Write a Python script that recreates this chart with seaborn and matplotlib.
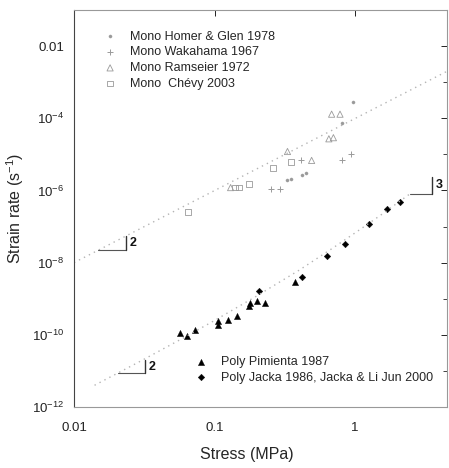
import matplotlib
matplotlib.use("Agg")
import matplotlib.pyplot as plt
import matplotlib.ticker as mticker
import numpy as np
import pandas as pd
import seaborn as sns

# ---------------- data ----------------
homer_stress = [0.33, 0.35, 0.42, 0.45, 0.80, 0.96]
homer_rate = [2.0e-6, 2.1e-6, 2.7e-6, 3.0e-6, 7.6e-5, 2.9e-4]

wakahama_stress = [0.25, 0.29, 0.41, 0.80, 0.93]
wakahama_rate = [1.1e-6, 1.1e-6, 6.8e-6, 6.9e-6, 1.0e-5]

ramseier_stress = [0.13, 0.33, 0.49, 0.65, 0.70, 0.68, 0.78]
ramseier_rate = [1.2e-6, 1.2e-5, 6.8e-6, 2.7e-5, 2.9e-5, 1.3e-4, 1.3e-4]

chevy_stress = [0.065, 0.14, 0.15, 0.175, 0.26, 0.35]
chevy_rate = [2.5e-7, 1.2e-6, 1.2e-6, 1.5e-6, 4.2e-6, 6.2e-6]

pimienta_stress = [0.057, 0.064, 0.072, 0.106, 0.106, 0.125, 0.144, 0.177,
                   0.18, 0.20, 0.229, 0.374]
pimienta_rate = [1.1e-10, 9.0e-11, 1.4e-10, 1.9e-10, 2.4e-10, 2.5e-10, 3.4e-10,
                 6.2e-10, 7.5e-10, 8.7e-10, 7.6e-10, 3.0e-9]

jacka_stress = [0.208, 0.417, 0.63, 0.85, 1.26, 1.68, 2.09]
jacka_rate = [1.6e-9, 4.0e-9, 1.5e-8, 3.2e-8, 1.2e-7, 3.0e-7, 4.7e-7]

# fitted lines
mono_fit_stress = [0.01, 4.5]
mono_fit_rate = [1.0e-8, 2.0e-3]
poly_fit_stress = [0.014, 0.03, 0.06, 0.1, 0.2, 0.4, 0.7, 1.0, 1.5, 2.5]
poly_fit_rate = [4.0e-12, 1.9e-11, 8.2e-11, 2.5e-10, 1.2e-9, 6.2e-9, 2.6e-8,
                 6.7e-8, 2.0e-7, 8.5e-7]

# slope triangles: (x_left, x_right, y_low, y_high, label)
slope_marks = [
    (0.0148, 0.0235, 2.19e-8, 5.5e-8, "2"),
    (0.0206, 0.032, 8.5e-12, 2.05e-11, "2"),
    (2.46, 3.53, 8.1e-7, 2.4e-6, "3"),
]

y_major = [1e-12, 1e-10, 1e-8, 1e-6, 1e-4, 1e-2]
y_minor = [1e-11, 1e-9, 1e-7, 1e-5, 1e-3, 1e-1]
x_major = [0.01, 0.1, 1]
x_labels = ["0.01", "0.1", "1"]

# ---------------- style ----------------
sns.set_theme(style="white")
plt.rcParams["font.family"] = ["Liberation Sans", "DejaVu Sans"]
plt.rcParams["mathtext.fontset"] = "custom"
plt.rcParams["mathtext.rm"] = "Liberation Sans"
plt.rcParams["mathtext.it"] = "Liberation Sans:italic"
plt.rcParams["mathtext.bf"] = "Liberation Sans:bold"

fig = plt.figure(figsize=(4.49, 4.68), dpi=100)
ax = fig.add_axes([74 / 449, 61 / 468, 373 / 449, 397 / 468])
ax.set_xscale("log")
ax.set_yscale("log")

mono_col = "#9a9a9a"
line_col = "#b4b4b4"

# fit lines
sns.lineplot(x=mono_fit_stress, y=mono_fit_rate, ax=ax, color=line_col,
             linestyle=(0, (1, 3)), linewidth=1.0, sort=False, estimator=None)
sns.lineplot(x=poly_fit_stress, y=poly_fit_rate, ax=ax, color=line_col,
             linestyle=(0, (1, 3)), linewidth=1.0, sort=False, estimator=None)

# mono data
sns.scatterplot(x=homer_stress, y=homer_rate, ax=ax, marker="o", s=5,
                color=mono_col, edgecolor=mono_col, linewidth=0.3,
                label="Mono Homer & Glen 1978")
sns.scatterplot(x=wakahama_stress, y=wakahama_rate, ax=ax, marker="+", s=16,
                color=mono_col, linewidth=0.7, label="Mono Wakahama 1967")
sns.scatterplot(x=ramseier_stress, y=ramseier_rate, ax=ax, marker="^", s=20,
                color="none", edgecolor=mono_col, linewidth=0.6,
                label="Mono Ramseier 1972")
sns.scatterplot(x=chevy_stress, y=chevy_rate, ax=ax, marker="s", s=17,
                color="none", edgecolor=mono_col, linewidth=0.6,
                label="Mono  Chévy 2003")

# poly data
sns.scatterplot(x=pimienta_stress, y=pimienta_rate, ax=ax, marker="^", s=20,
                color="black", edgecolor="black", linewidth=0.3,
                label="Poly Pimienta 1987")
sns.scatterplot(x=jacka_stress, y=jacka_rate, ax=ax, marker="D", s=11,
                color="black", edgecolor="black", linewidth=0.3,
                label="Poly Jacka 1986, Jacka & Li Jun 2000")

# slope triangles
for xl, xr, yl, yh, lab in slope_marks:
    ax.plot([xl, xr], [yl, yl], color="#555555", linewidth=0.8)
    ax.plot([xr, xr], [yl, yh], color="#333333", linewidth=1.0)
    ax.text(xr * 1.06, np.sqrt(yl * yh), lab, fontsize=9, fontweight="bold",
            ha="left", va="center", color="#111111")

ax.set_xlim(0.01, 4.5)
ax.set_ylim(1e-12, 0.1)

ax.xaxis.set_major_locator(mticker.FixedLocator(x_major))
ax.xaxis.set_major_formatter(mticker.FixedFormatter(x_labels))
ax.xaxis.set_minor_locator(mticker.NullLocator())


def yfmt(v, pos):
    if abs(v - 1e-2) < 1e-9:
        return "0.01"
    return r"$10^{%d}$" % int(round(np.log10(v)))


ax.yaxis.set_major_locator(mticker.FixedLocator(y_major))
ax.yaxis.set_major_formatter(mticker.FuncFormatter(yfmt))
ax.yaxis.set_minor_locator(mticker.FixedLocator(y_minor))
ax.yaxis.set_minor_formatter(mticker.NullFormatter())

ax.tick_params(which="both", direction="in", top=True, right=True,
               labelsize=9.5, colors="#222222")
ax.tick_params(which="major", length=4, width=0.7)
ax.tick_params(which="minor", length=3, width=0.6)
ax.tick_params(axis="x", which="major", pad=11)
ax.tick_params(axis="y", which="major", pad=7)
for side, sp in ax.spines.items():
    sp.set_linewidth(0.8)
    sp.set_color("#444444" if side == "left" else "#999999")

ax.set_xlabel("Stress (MPa)", fontsize=11.5)
ax.set_ylabel("Strain rate (s$^{-1}$)", fontsize=11.5)
ax.xaxis.set_label_coords(0.464, -0.102)
ax.yaxis.set_label_coords(-0.128, 0.5)

handles, labels = ax.get_legend_handles_labels()
h_mono, l_mono = handles[:4], labels[:4]
h_poly, l_poly = handles[4:], labels[4:]
if ax.get_legend() is not None:
    ax.get_legend().remove()

leg1 = ax.legend(h_mono, l_mono, loc="upper left",
                 bbox_to_anchor=(0.080, 0.948), frameon=False, fontsize=9,
                 borderpad=0, borderaxespad=0, handlelength=1.0,
                 handletextpad=1.1, labelspacing=0.3)
ax.add_artist(leg1)
leg2 = ax.legend(h_poly, l_poly, loc="upper left",
                 bbox_to_anchor=(0.325, 0.129), frameon=False, fontsize=9,
                 borderpad=0, borderaxespad=0, handlelength=1.0,
                 handletextpad=1.1, labelspacing=0.3)

fig.savefig("out.png", dpi=100)
